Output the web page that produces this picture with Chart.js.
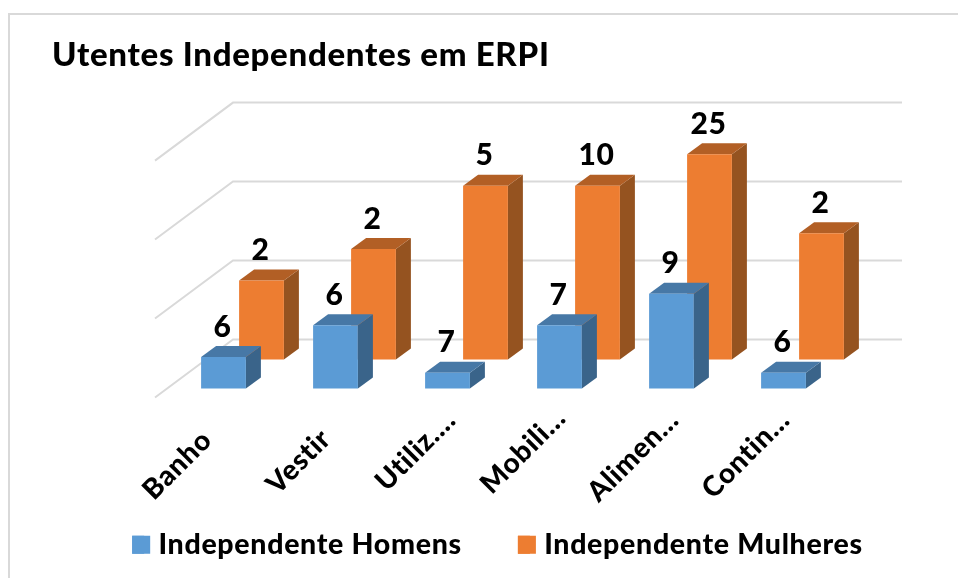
<!DOCTYPE html>
<html lang="pt">
<head>
    <meta charset="UTF-8">
    <title>Utentes Independentes em ERPI</title>
    <style>
        body {
            margin: 0;
            background-color: #fff;
        }
        #frame {
            position: absolute;
            left: 8px;
            top: 13px;
            right: 0;
            bottom: 0;
            border-top: 2px solid #d9d9d9;
            border-left: 2px solid #d9d9d9;
        }
        canvas {
            position: absolute;
            left: 0;
            top: 0;
        }
    </style>
</head>
<body>

<div id="frame"></div>
<canvas id="myChart" width="958" height="578"></canvas>

<script src="https://cdn.jsdelivr.net/npm/chart.js"></script>
<script>
    const categorias = ['Banho', 'Vestir', 'Utiliz.…', 'Mobili…', 'Alimen…', 'Contin…'];
    const homens = [2, 4, 1, 4, 6, 1];
    const mulheres = [5, 7, 11, 11, 13, 8];
    // as etiquetas do original nao correspondem a altura das barras
    const etiquetasHomens = ['6', '6', '7', '7', '9', '6'];
    const etiquetasMulheres = ['2', '2', '5', '10', '25', '2'];
    const marcasY = [0, 5, 10, 15];

    // perspetiva "3D"
    const fila = [{ dx: 12.5, dy: -9 }, { dx: 50.5, dy: -38 }];
    const lado = { dx: 15, dy: -11 };
    const fundo = { dx: 78, dy: -58, fimX: 902 };
    const coresLado = ['#3a648a', '#955320'];
    const coresTopo = ['#4778a6', '#b25f25'];
    const etiquetas = [etiquetasHomens, etiquetasMulheres];
    const ajusteEixo = [[-4, 15], [3, 14], [16, -5], [14, -7], [15, -5], [14, -5]];

    const efeito3d = {
        id: 'efeito3d',
        beforeLayout(chart) {
            // o resize do canvas limpa o estado do contexto
            chart.ctx.letterSpacing = '0.7px';
        },
        afterLayout(chart) {
            const area = chart.chartArea;
            const eixo = chart.scales.x;
            eixo.getLabelItems(area).forEach((item, i) => {
                item.options.translation[0] += ajusteEixo[i][0];
                item.options.translation[1] += ajusteEixo[i][1];
            });
            eixo.bottom = chart.height; // senao o texto rodado fica cortado
        },
        beforeDatasetsDraw(chart) {
            const { ctx, scales } = chart;
            ctx.save();
            ctx.strokeStyle = '#d9d9d9';
            ctx.lineWidth = 2;
            marcasY.forEach(v => {
                const y = scales.y.getPixelForValue(v);
                ctx.beginPath();
                ctx.moveTo(scales.x.left, y);
                ctx.lineTo(scales.x.left + fundo.dx, y + fundo.dy);
                ctx.lineTo(fundo.fimX, y + fundo.dy);
                ctx.stroke();
            });
            ctx.restore();
        },
        beforeDatasetDraw(chart, args) {
            const { ctx } = chart;
            const i = args.index;
            ctx.save();
            ctx.translate(fila[i].dx, fila[i].dy);
            chart.getDatasetMeta(i).data.forEach(bar => {
                const l = bar.x - bar.width / 2;
                const r = bar.x + bar.width / 2;
                ctx.fillStyle = coresLado[i];
                ctx.beginPath();
                ctx.moveTo(r, bar.y);
                ctx.lineTo(r + lado.dx, bar.y + lado.dy);
                ctx.lineTo(r + lado.dx, bar.base + lado.dy);
                ctx.lineTo(r, bar.base);
                ctx.fill();
                ctx.fillStyle = coresTopo[i];
                ctx.beginPath();
                ctx.moveTo(l, bar.y);
                ctx.lineTo(l + lado.dx, bar.y + lado.dy);
                ctx.lineTo(r + lado.dx, bar.y + lado.dy);
                ctx.lineTo(r, bar.y);
                ctx.fill();
            });
        },
        afterDatasetDraw(chart) {
            chart.ctx.restore();
        },
        afterDatasetsDraw(chart) {
            const { ctx } = chart;
            ctx.save();
            ctx.fillStyle = '#000';
            ctx.font = '900 30px Lato';
            ctx.textAlign = 'center';
            ctx.textBaseline = 'middle';
            etiquetas.forEach((textos, i) => {
                chart.getDatasetMeta(i).data.forEach((bar, j) => {
                    ctx.fillText(textos[j], bar.x + fila[i].dx - 1, bar.y + fila[i].dy - 30);
                });
            });
            ctx.restore();
        },
        afterDraw(chart) {
            // quadrado da legenda mais largo, colado ao texto como no original
            const { ctx, legend } = chart;
            ctx.save();
            legend.legendHitBoxes.forEach((box, i) => {
                ctx.fillStyle = chart.data.datasets[i].backgroundColor;
                ctx.fillRect(box.left, box.top + box.height / 2 - 9, 18, 18);
            });
            ctx.restore();
        }
    };

    new Chart(document.getElementById('myChart'), {
        type: 'bar',
        data: {
            labels: categorias,
            datasets: [
                { label: 'Independente Homens', data: homens, backgroundColor: '#5b9bd5', clip: false },
                { label: 'Independente Mulheres', data: mulheres, backgroundColor: '#ed7d31', clip: false }
            ]
        },
        plugins: [efeito3d],
        options: {
            responsive: false,
            animation: false,
            barPercentage: 0.4,
            categoryPercentage: 1,
            layout: {
                autoPadding: false,
                padding: { left: 52, right: 15, top: 0, bottom: 9 }
            },
            plugins: {
                tooltip: { enabled: false },
                title: {
                    display: true,
                    text: 'Utentes Independentes em ERPI',
                    align: 'start',
                    color: '#000',
                    font: { family: 'Lato', size: 33, weight: 900 },
                    padding: { top: 36, bottom: 85 }
                },
                legend: {
                    position: 'bottom',
                    labels: {
                        color: '#000',
                        font: { family: 'Lato', size: 28.5, weight: 900 },
                        boxWidth: 12,
                        boxHeight: 18,
                        padding: 56
                    }
                }
            },
            scales: {
                x: {
                    stacked: true,
                    grid: { display: false },
                    border: { display: false },
                    ticks: {
                        autoSkip: false,
                        maxRotation: 45,
                        minRotation: 45,
                        color: '#000',
                        font: { family: 'Lato', size: 28, weight: 900 }
                    },
                    afterFit(scale) { scale.height = 77; }
                },
                y: {
                    min: 0,
                    max: 15,
                    ticks: { display: false, stepSize: 5 },
                    grid: { display: false },
                    border: { display: false },
                    afterFit(scale) { scale.width = 103; }
                },
                margemDireita: {
                    position: 'right',
                    ticks: { display: false },
                    grid: { display: false },
                    border: { display: false },
                    afterFit(scale) { scale.width = 116; }
                }
            }
        }
    });
</script>

</body>
</html>
